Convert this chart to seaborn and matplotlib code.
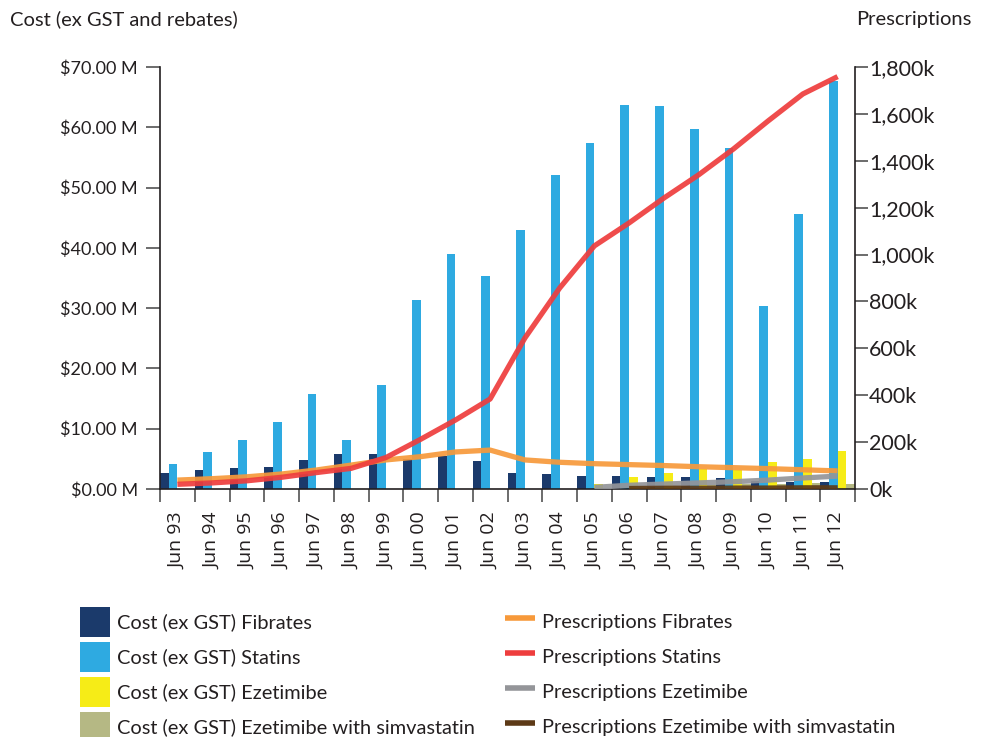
import numpy as np
import pandas as pd
import matplotlib
matplotlib.use("Agg")
import matplotlib.pyplot as plt
from matplotlib.patches import Patch
from matplotlib.lines import Line2D
import seaborn as sns

# ---- data -------------------------------------------------------------
years = ["Jun 93", "Jun 94", "Jun 95", "Jun 96", "Jun 97", "Jun 98", "Jun 99",
         "Jun 00", "Jun 01", "Jun 02", "Jun 03", "Jun 04", "Jun 05", "Jun 06",
         "Jun 07", "Jun 08", "Jun 09", "Jun 10", "Jun 11", "Jun 12"]

nan = np.nan

# cost (ex GST and rebates), $ millions
cost_fibrates = [2.7, 3.15, 3.5, 3.65, 4.8, 5.8, 5.8, 5.0, 5.4, 4.6,
                 2.7, 2.55, 2.15, 2.15, 2.0, 2.0, 1.8, 1.4, 1.1, 1.2]
cost_statins = [4.15, 6.1, 8.1, 11.1, 15.8, 8.1, 17.2, 31.3, 39.0, 35.3,
                43.0, 52.1, 57.4, 63.7, 63.5, 59.7, 56.5, 30.3, 45.6, 67.7]
cost_ezetimibe = [nan] * 12 + [0.8, 2.0, 2.65, 3.3, 3.15, 4.5, 5.0, 6.3]
cost_eze_simva = [nan] * 13 + [0.4, 0.6, 0.7, 0.8, 0.9, 1.0, 0.8]

# prescriptions, thousands
rx_fibrates = [38, 44, 52, 64, 81, 102, 124, 138, 158, 166,
               124, 114, 108, 104, 100, 95, 91, 87, 82, 77]
rx_statins = [20, 26, 35, 50, 70, 88, 134, 212, 294, 384,
              644, 857, 1037, 1135, 1241, 1340, 1450, 1570, 1685, 1759]
rx_ezetimibe = [nan] * 12 + [7, 16, 21, 26, 31, 38, 47, 55]
rx_eze_simva = [nan] * 13 + [2, 3, 3, 4, 4, 5, 5]

cost_names = ["Cost (ex GST) Fibrates", "Cost (ex GST) Statins",
              "Cost (ex GST) Ezetimibe", "Cost (ex GST) Ezetimibe with simvastatin"]
rx_names = ["Prescriptions Fibrates", "Prescriptions Statins",
            "Prescriptions Ezetimibe", "Prescriptions Ezetimibe with simvastatin"]
cost_colors = ["#1b3a6b", "#2eaae1", "#f6ec17", "#b5b884"]
rx_colors = ["#f7993a", "#ee3d3d", "#949599", "#5d3a17"]

# ---- long-form tables -------------------------------------------------
cost_df = pd.concat([
    pd.DataFrame({"year": years, "cost": vals, "series": name})
    for name, vals in zip(cost_names,
                          [cost_fibrates, cost_statins, cost_ezetimibe, cost_eze_simva])
], ignore_index=True)
cost_df["year"] = pd.Categorical(cost_df["year"], categories=years, ordered=True)

rx_df = pd.concat([
    pd.DataFrame({"pos": np.arange(len(years)), "rx": vals, "series": name})
    for name, vals in zip(rx_names,
                          [rx_fibrates, rx_statins, rx_ezetimibe, rx_eze_simva])
], ignore_index=True).dropna()

# ---- figure -------------------------------------------------------------
sns.set_style("ticks")
plt.rcParams["font.family"] = ["Lato", "DejaVu Sans"]
plt.rcParams["text.color"] = "#231f20"

fig = plt.figure(figsize=(9.85, 7.37), dpi=100)
ax = fig.add_axes([160 / 985, 1 - 489 / 737, (855 - 160) / 985, (489 - 67) / 737])

sns.barplot(data=cost_df, x="year", y="cost", hue="series",
            hue_order=cost_names, palette=cost_colors, order=years,
            width=1.0, gap=0, saturation=1, errorbar=None,
            linewidth=0, legend=False, ax=ax)

ax2 = ax.twinx()
sns.lineplot(data=rx_df, x="pos", y="rx", hue="series", hue_order=rx_names,
             palette=rx_colors, estimator=None, sort=False, linewidth=3.8,
             alpha=0.92, legend=False, ax=ax2, solid_capstyle="butt")

# ---- axes styling -------------------------------------------------------
ink = "#231f20"
ax.set_xlim(-0.5, len(years) - 0.5)
ax.set_ylim(0, 70)
ax2.set_ylim(0, 1800)

ax.set_xticks(np.arange(len(years)))
ax.set_xticklabels(years, rotation=90, family="Open Sans", fontsize=14, color=ink)
ax.set_xticks(np.arange(len(years) + 1) - 0.5, minor=True)
ax.tick_params(axis="x", which="major", length=0, pad=17)
ax.tick_params(axis="x", which="minor", length=9.5, width=1.1, color="#444444")

cost_ticks = np.arange(0, 71, 10)
ax.set_yticks(cost_ticks)
ax.set_yticklabels([f"${v:.2f} M" for v in cost_ticks], fontsize=13, color=ink)
ax.tick_params(axis="y", length=10, width=1.1, color="#444444", pad=6)

rx_ticks = np.arange(0, 1801, 200)
ax2.set_yticks(rx_ticks)
ax2.set_yticklabels([f"{v:,}k" for v in rx_ticks], fontsize=15.5, color=ink)
ax2.tick_params(axis="y", length=9, width=1.1, color="#444444", pad=1)

ax.set_xlabel("")
ax.set_ylabel("")
ax2.set_xlabel("")
ax2.set_ylabel("")

for a in (ax, ax2):
    a.spines["top"].set_visible(False)
    for s in a.spines.values():
        s.set_linewidth(1.2)
        s.set_color(ink)
ax.spines["right"].set_visible(False)
ax2.spines["left"].set_visible(False)
ax2.spines["bottom"].set_visible(False)

fig.text(10 / 985, 1 - 19 / 737, "Cost (ex GST and rebates)", fontsize=14.5,
         ha="left", va="center", color=ink)
fig.text(972 / 985, 1 - 19 / 737, "Prescriptions", fontsize=14.5,
         ha="right", va="center", color=ink)

# ---- legend -----------------------------------------------------------
handles = [Patch(facecolor=c, edgecolor="none", label=n)
           for c, n in zip(cost_colors, cost_names)]
handles += [Line2D([0], [0], color=c, lw=4, label=n, solid_capstyle="butt")
            for c, n in zip(rx_colors, rx_names)]
fig.legend(handles=handles, loc="upper left", ncol=2,
           bbox_to_anchor=(80 / 985, 1 - 607 / 737), frameon=False,
           fontsize=14.4, handlelength=1.5, handleheight=1.93,
           handletextpad=0.35, labelspacing=0.25, columnspacing=1.5,
           borderpad=0, borderaxespad=0)

fig.savefig("out.png", dpi=100)
